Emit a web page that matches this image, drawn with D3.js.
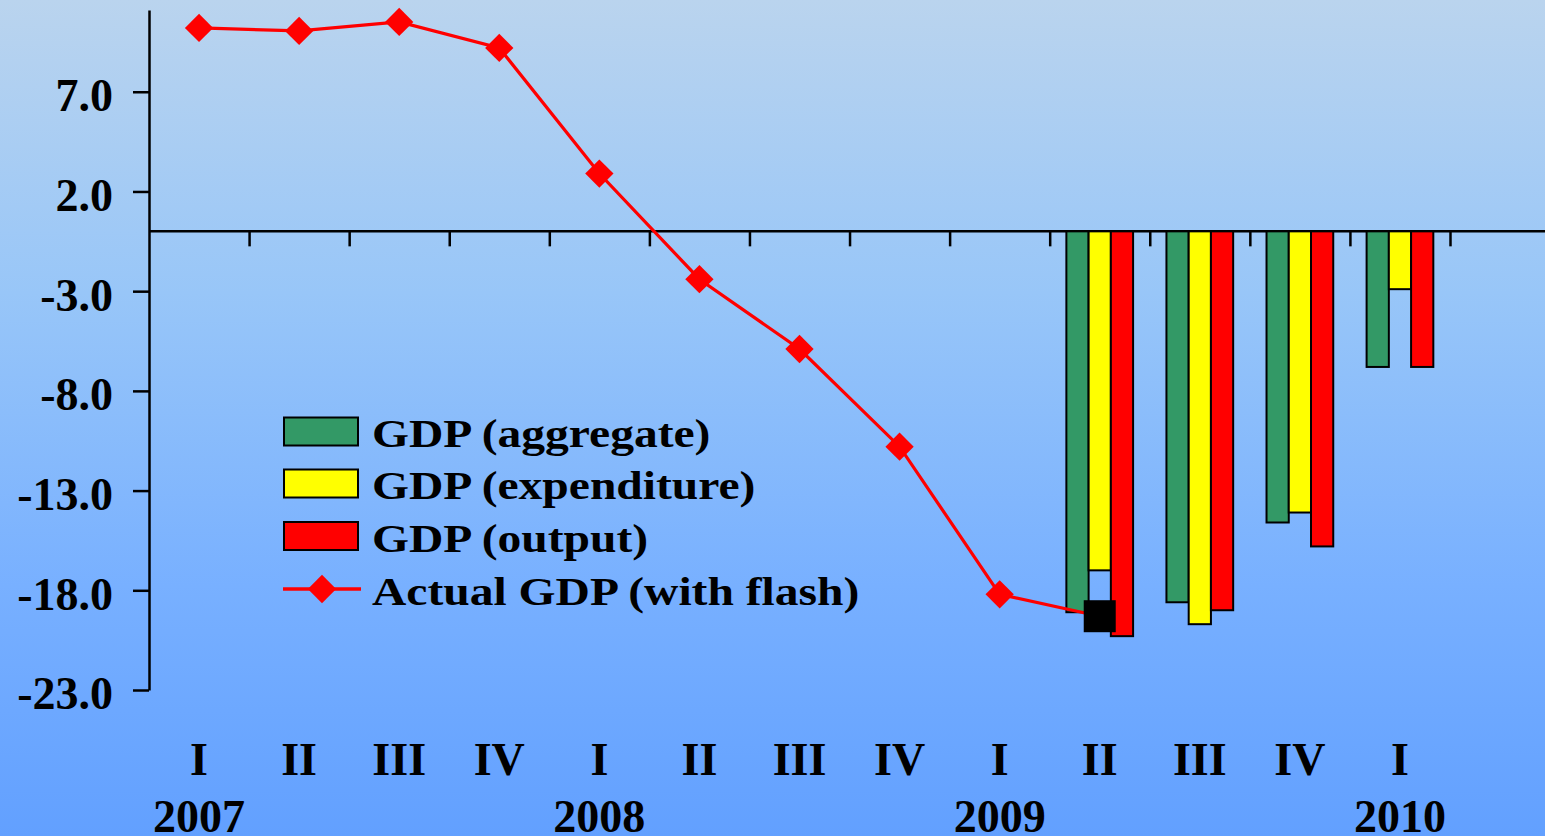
<!DOCTYPE html>
<html>
<head>
<meta charset="utf-8">
<script src="https://cdn.jsdelivr.net/npm/d3@7"></script>
<style>
  html, body { margin: 0; padding: 0; background: #62a0ff; }
  svg { display: block; }
  text { font-family: "Liberation Serif", "Times New Roman", serif; font-weight: bold; fill: #000; }
</style>
</head>
<body>
<svg id="chart" width="1545" height="836"></svg>
<script>
// Quarters on the horizontal axis
const quarters = ["2007Q1","2007Q2","2007Q3","2007Q4","2008Q1","2008Q2","2008Q3","2008Q4",
                  "2009Q1","2009Q2","2009Q3","2009Q4","2010Q1"];
const quarterLabels = ["I","II","III","IV","I","II","III","IV","I","II","III","IV","I"];
const yearLabels = [
  { quarter: "2007Q1", label: "2007" },
  { quarter: "2008Q1", label: "2008" },
  { quarter: "2009Q1", label: "2009" },
  { quarter: "2010Q1", label: "2010" }
];

// Actual GDP growth (line with diamonds) and the flash estimate
const actualQuarters = ["2007Q1","2007Q2","2007Q3","2007Q4","2008Q1","2008Q2","2008Q3","2008Q4","2009Q1"];
const actualGDP = [10.2, 10.05, 10.5, 9.2, 2.9, -2.4, -5.9, -10.8, -18.2];
const flashQuarter = "2009Q2";
const flashGDP = -19.3;

// Forecast bars by measure
const barQuarters = ["2009Q2","2009Q3","2009Q4","2010Q1"];
const gdpAggregate = [-19.1, -18.6, -14.6, -6.8];
const gdpExpenditure = [-17.0, -19.7, -14.1, -2.9];
const gdpOutput = [-20.3, -19.0, -15.8, -6.8];

const seriesNames = ["GDP (aggregate)", "GDP (expenditure)", "GDP (output)"];
const seriesColors = ["#339966", "#ffff00", "#ff0000"];
const lineName = "Actual GDP (with flash)";

const yTicks = [7, 2, -3, -8, -13, -18, -23];

const W = 1545, H = 836;
const svg = d3.select("#chart");

// Background gradient
const defs = svg.append("defs");
const grad = defs.append("linearGradient").attr("id", "bg").attr("x1", 0).attr("y1", 0).attr("x2", 0).attr("y2", 1);
[[0, "#bad4ee"], [0.35, "#98c6f8"], [0.7, "#78b0ff"], [1, "#62a0ff"]].forEach(([o, c]) =>
  grad.append("stop").attr("offset", o).attr("stop-color", c));
svg.append("rect").attr("width", W).attr("height", H).attr("fill", "url(#bg)");

// Scales
const x = d3.scaleBand().domain(quarters).range([149, 1450]).padding(0);
const y = d3.scaleLinear().domain([-23, 11.1]).range([690, 10]);
const xs = d3.scaleBand().domain(seriesNames).range([0, x.bandwidth() * 2 / 3]).padding(0);
const groupOffset = (x.bandwidth() - xs.range()[1]) / 2;

// Y axis (plain hyphen for negatives)
const yAxis = svg.append("g").attr("transform", "translate(149,0)")
  .call(d3.axisLeft(y).tickValues(yTicks).tickSize(16).tickSizeOuter(0).tickPadding(20)
        .tickFormat(d => d.toFixed(1)));
yAxis.select(".domain").attr("stroke", "#000").attr("stroke-width", 2.5);
yAxis.selectAll(".tick line").attr("stroke", "#000").attr("stroke-width", 2.5);
yAxis.selectAll(".tick text")
  .attr("font-family", "Liberation Serif, Times New Roman, serif")
  .attr("font-weight", "bold").attr("font-size", 46).attr("dy", "0.41em").attr("fill", "#000");

// Zero line with category boundary ticks
const xb = d3.scaleLinear().domain([0, quarters.length]).range(x.range());
const xAxis = svg.append("g").attr("transform", `translate(0,${y(0)})`)
  .call(d3.axisBottom(xb).tickValues(d3.range(1, quarters.length + 1)).tickSize(15)
        .tickSizeOuter(0).tickFormat(""));
xAxis.select(".domain").remove();
xAxis.selectAll(".tick line").attr("stroke", "#000").attr("stroke-width", 2.5);
svg.append("line").attr("x1", 149).attr("x2", W).attr("y1", y(0)).attr("y2", y(0))
  .attr("stroke", "#000").attr("stroke-width", 2.5);

// Quarter and year labels
svg.append("g").selectAll("text").data(quarters).join("text")
  .attr("x", d => x(d) + x.bandwidth() / 2).attr("y", 775)
  .attr("text-anchor", "middle").attr("font-size", 46)
  .text((d, i) => quarterLabels[i]);
svg.append("g").selectAll("text").data(yearLabels).join("text")
  .attr("x", d => x(d.quarter) + x.bandwidth() / 2).attr("y", 832)
  .attr("text-anchor", "middle").attr("font-size", 46)
  .text(d => d.label);

// Bars
const barData = [];
[gdpAggregate, gdpExpenditure, gdpOutput].forEach((vals, si) => {
  vals.forEach((v, qi) => barData.push({ q: barQuarters[qi], s: seriesNames[si], v, c: seriesColors[si] }));
});
svg.append("g").selectAll("rect").data(barData).join("rect")
  .attr("x", d => x(d.q) + groupOffset + xs(d.s))
  .attr("width", xs.bandwidth())
  .attr("y", d => y(Math.max(0, d.v)))
  .attr("height", d => Math.abs(y(d.v) - y(0)))
  .attr("fill", d => d.c).attr("stroke", "#000").attr("stroke-width", 2);

// Actual GDP line
const linePts = actualQuarters.map((q, i) => ({ q, v: actualGDP[i] }));
linePts.push({ q: flashQuarter, v: flashGDP });
const line = d3.line().x(d => x(d.q) + x.bandwidth() / 2).y(d => y(d.v));
svg.append("path").datum(linePts).attr("d", line)
  .attr("fill", "none").attr("stroke", "#ff0000").attr("stroke-width", 3.2);

const diamond = d3.symbol().type(d3.symbolSquare).size(400);
svg.append("g").selectAll("path").data(linePts.slice(0, actualGDP.length)).join("path")
  .attr("transform", d => `translate(${x(d.q) + x.bandwidth() / 2},${y(d.v)}) rotate(45)`)
  .attr("d", diamond).attr("fill", "#ff0000");

// Flash estimate marker
svg.append("rect")
  .attr("x", x(flashQuarter) + x.bandwidth() / 2 - 16).attr("y", y(flashGDP) - 16)
  .attr("width", 32).attr("height", 32).attr("fill", "#000");

// Legend
const legend = svg.append("g");
const rowY = [431.5, 483.5, 536, 589];
seriesNames.forEach((name, i) => {
  legend.append("rect").attr("x", 284).attr("y", rowY[i] - 14).attr("width", 74).attr("height", 28)
    .attr("fill", seriesColors[i]).attr("stroke", "#000").attr("stroke-width", 2);
});
legend.append("line").attr("x1", 283).attr("x2", 361).attr("y1", rowY[3]).attr("y2", rowY[3])
  .attr("stroke", "#ff0000").attr("stroke-width", 3.5);
legend.append("path").attr("transform", `translate(322,${rowY[3]}) rotate(45)`)
  .attr("d", diamond).attr("fill", "#ff0000");
[...seriesNames, lineName].forEach((name, i) => {
  legend.append("text")
    .attr("transform", `translate(372,${rowY[i] + 15.5}) scale(1.16,1)`)
    .attr("font-size", 41).text(name);
});
</script>
</body>
</html>
